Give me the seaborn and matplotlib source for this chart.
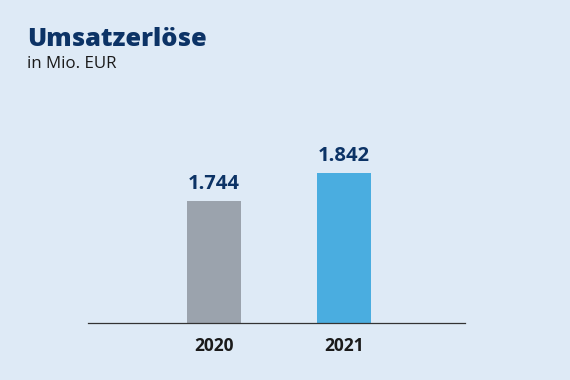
import matplotlib
matplotlib.use("Agg")
import matplotlib.pyplot as plt
import seaborn as sns
import pandas as pd

# data
years = ["2020", "2021"]
revenue = [1744, 1842]
labels = ["1.744", "1.842"]
bar_colors = ["#9ba3ad", "#4aade0"]

bg = "#deeaf6"
navy = "#0c3366"

sns.set_theme(style="white")
plt.rcParams['font.family'] = ['Open Sans', 'DejaVu Sans']

df = pd.DataFrame({"year": years, "revenue": revenue})

fig = plt.figure(figsize=(5.7, 3.8), dpi=100)
fig.patch.set_facecolor(bg)
ax = fig.add_axes([0.1544, 0.15, 0.6614, 0.5868])
ax.set_facecolor(bg)

sns.barplot(data=df, x="year", y="revenue", hue="year", palette=bar_colors,
            width=0.415, legend=False, ax=ax, saturation=1, linewidth=0)

ax.set_xlim(-0.969, 1.931)
ax.set_ylim(1317, 2097)

for i, (v, lab) in enumerate(zip(revenue, labels)):
    ax.annotate(lab, (i, v), xytext=(0, 8.5), textcoords="offset points",
                ha="center", va="baseline", fontsize=14.5, fontweight="bold",
                color=navy)

# axis styling
for s in ["top", "right", "left"]:
    ax.spines[s].set_visible(False)
ax.spines["bottom"].set_color("#333333")
ax.spines["bottom"].set_linewidth(0.9)
ax.set_yticks([])
ax.tick_params(axis="x", length=0, pad=10)
for t in ax.get_xticklabels():
    t.set_fontsize(12.5)
    t.set_fontweight("bold")
    t.set_color("#1a1a1a")
ax.set_xlabel("")
ax.set_ylabel("")

fig.text(27 / 570, 1 - 46 / 380, "Umsatzerlöse", fontsize=18.3, fontweight="heavy",
         color=navy, ha="left", va="baseline")
fig.text(27 / 570, 1 - 68 / 380, "in Mio. EUR", fontsize=12.2,
         color="#1a1a1a", ha="left", va="baseline")

fig.savefig("out.png", dpi=100, facecolor=bg)
